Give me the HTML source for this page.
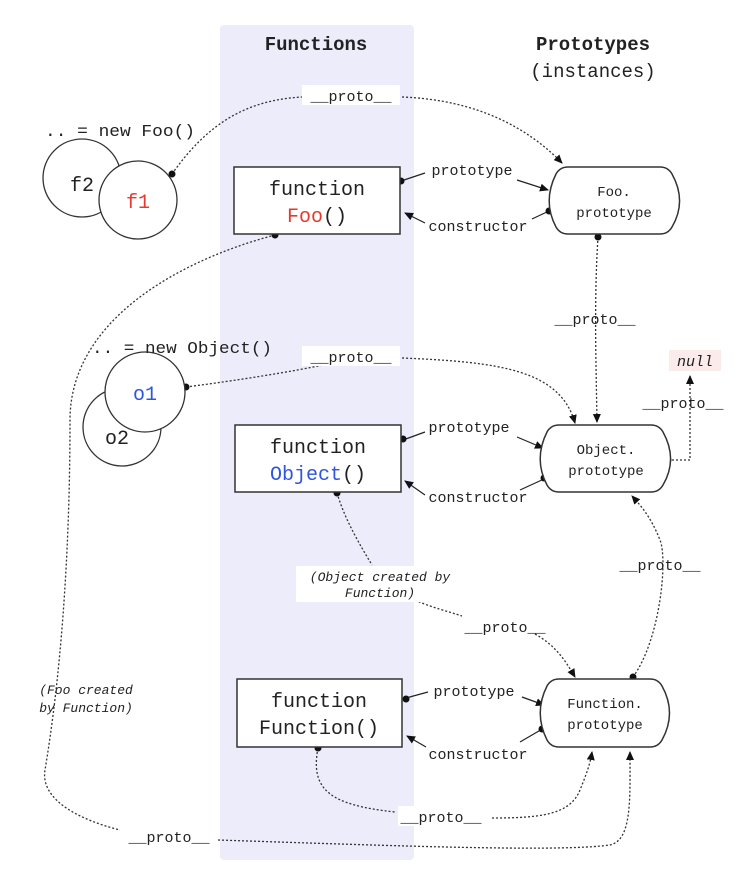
<!DOCTYPE html>
<html><head><meta charset="utf-8"><style>
html,body{margin:0;padding:0;background:#fff;}
svg{display:block;}
text{font-family:"Liberation Mono","DejaVu Sans Mono",monospace;fill:#222;}
</style></head><body>
<svg width="752" height="878" viewBox="0 0 752 878" xmlns="http://www.w3.org/2000/svg">
<defs>
<marker id="a" markerWidth="10" markerHeight="10" refX="8" refY="4" orient="auto" markerUnits="userSpaceOnUse">
<path d="M0,0 L9,4 L0,8 z" fill="#111"/></marker>
</defs>
<rect x="220" y="25" width="194" height="835" rx="4" fill="#ececfb"/>
<text x="316" y="50" font-size="19" font-weight="bold" text-anchor="middle">Functions</text>
<text x="593" y="50" font-size="19" font-weight="bold" text-anchor="middle">Prototypes</text>
<text x="593" y="77" font-size="19" text-anchor="middle">(instances)</text>

<g fill="none" stroke="#333" stroke-width="1.3" stroke-dasharray="2 2">
<path d="M172,174 C210,120 250,100 302,97"/>
<path d="M402,97 C480,100 530,130 562,163" marker-end="url(#a)"/>
<path d="M598,237 C594,300 596,360 597,422" marker-end="url(#a)"/>
<path d="M275,235 C180,260 70,320 70,420 C70,560 60,680 45,770 C40,800 80,820 120,830"/>
<path d="M218,840 C400,846 560,852 610,845 C632,840 630,800 630,752" marker-end="url(#a)"/>
<path d="M186,387 C240,380 290,372 328,364"/>
<path d="M402,358 C500,362 560,370 575,423" marker-end="url(#a)"/>
<path d="M668,460 L690,460 L690,376" marker-end="url(#a)"/>
<path d="M337,493 C345,520 360,545 372,565"/>
<path d="M415,600 C430,607 450,612 462,616"/>
<path d="M535,634 C555,645 565,660 575,677" marker-end="url(#a)"/>
<path d="M633,677 C660,640 668,560 660,540 C650,515 640,505 632,496" marker-end="url(#a)"/>
<path d="M318,748 C310,790 330,805 395,812"/>
<path d="M492,818 C540,818 570,815 580,790 C586,775 590,765 592,752" marker-end="url(#a)"/>
</g>

<g fill="none" stroke="#222" stroke-width="1.2">
<path d="M401,181 L425,173"/>
<path d="M517,180 L548,190" marker-end="url(#a)"/>
<path d="M549,211 L532,219"/>
<path d="M425,223 L405,213" marker-end="url(#a)"/>
<path d="M403,440 L425,432"/>
<path d="M517,437 L543,448" marker-end="url(#a)"/>
<path d="M544,479 L520,490"/>
<path d="M425,495 L405,481" marker-end="url(#a)"/>
<path d="M406,698 L428,692"/>
<path d="M522,697 L544,705" marker-end="url(#a)"/>
<path d="M544,728 L520,742"/>
<path d="M426,747 L407,736" marker-end="url(#a)"/>
</g>

<g fill="#111">
<circle cx="172" cy="174" r="3.5"/><circle cx="401" cy="181" r="3.5"/><circle cx="549" cy="211" r="3.5"/>
<circle cx="598" cy="237" r="3.5"/><circle cx="275" cy="235" r="3.5"/><circle cx="186" cy="387" r="3.5"/>
<circle cx="403" cy="439" r="3.5"/><circle cx="544" cy="478" r="3.5"/><circle cx="668" cy="460" r="3.5"/>
<circle cx="337" cy="493" r="3.5"/><circle cx="633" cy="677" r="3.5"/><circle cx="406" cy="699" r="3.5"/>
<circle cx="542" cy="729" r="3.5"/><circle cx="318" cy="748" r="3.5"/>
</g>

<g stroke="#333" stroke-width="1.3" fill="#fff">
<circle cx="82" cy="178" r="39"/><circle cx="138" cy="200" r="39"/>
<circle cx="122" cy="427" r="39"/><circle cx="145" cy="392" r="40"/>
</g>
<text x="82" y="191" font-size="20" text-anchor="middle">f2</text>
<text x="138" y="208" font-size="20" text-anchor="middle" style="fill:#e53a2f">f1</text>
<text x="145" y="400" font-size="20" text-anchor="middle" style="fill:#2f55e0">o1</text>
<text x="117" y="444" font-size="20" text-anchor="middle">o2</text>
<text x="45" y="136" font-size="17" textLength="150" lengthAdjust="spacingAndGlyphs">.. = new Foo()</text>
<text x="92" y="353" font-size="17" textLength="180" lengthAdjust="spacingAndGlyphs">.. = new Object()</text>

<g stroke="#333" stroke-width="1.5" fill="#fff">
<rect x="234" y="167" width="166" height="67"/>
<rect x="235" y="425" width="166" height="67"/>
<rect x="237" y="679" width="165" height="68"/>
</g>
<text x="317" y="195" font-size="20" text-anchor="middle">function</text>
<text x="317" y="222" font-size="20" text-anchor="middle"><tspan style="fill:#e53a2f">Foo</tspan>()</text>
<text x="318" y="453" font-size="20" text-anchor="middle">function</text>
<text x="318" y="480" font-size="20" text-anchor="middle"><tspan style="fill:#2f55e0">Object</tspan>()</text>
<text x="319" y="707" font-size="20" text-anchor="middle">function</text>
<text x="319" y="734" font-size="20" text-anchor="middle">Function()</text>

<g stroke="#333" stroke-width="1.5" fill="#fff">
<path d="M568,167 L660,167 Q668,167 672,174 C682,192 682,210 672,227 Q668,234 660,234 L568,234 Q560,234 556,227 C547,210 547,192 556,174 Q560,167 568,167 z"/>
<path d="M559,425 L651,425 Q659,425 663,432 C673,450 673,468 663,485 Q659,492 651,492 L559,492 Q551,492 547,485 C538,468 538,450 547,432 Q551,425 559,425 z"/>
<path d="M559,679 L650,679 Q658,679 662,686 C672,704 672,722 662,740 Q658,747 650,747 L559,747 Q551,747 547,740 C538,722 538,704 547,686 Q551,679 559,679 z"/>
</g>
<text x="614" y="196" font-size="14" text-anchor="middle">Foo.</text>
<text x="614" y="217" font-size="14" text-anchor="middle">prototype</text>
<text x="606" y="454" font-size="14" text-anchor="middle">Object.</text>
<text x="606" y="475" font-size="14" text-anchor="middle">prototype</text>
<text x="605" y="708" font-size="14" text-anchor="middle">Function.</text>
<text x="605" y="729" font-size="14" text-anchor="middle">prototype</text>

<rect x="669" y="350" width="52" height="21" fill="#fbeceb"/>
<text x="695" y="366" font-size="15" font-style="italic" text-anchor="middle">null</text>

<g font-size="15">
<rect x="302" y="85" width="98" height="20" fill="#fff"/>
<text x="351" y="101" text-anchor="middle">__proto__</text>
<rect x="302" y="346" width="98" height="20" fill="#fff"/>
<text x="351" y="362" text-anchor="middle">__proto__</text>
<text x="472" y="175" text-anchor="middle">prototype</text>
<text x="478" y="231" text-anchor="middle">constructor</text>
<text x="469" y="432" text-anchor="middle">prototype</text>
<text x="478" y="502" text-anchor="middle">constructor</text>
<text x="474" y="696" text-anchor="middle">prototype</text>
<text x="478" y="759" text-anchor="middle">constructor</text>
<text x="595" y="324" text-anchor="middle">__proto__</text>
<text x="683" y="408" text-anchor="middle">__proto__</text>
<text x="660" y="570" text-anchor="middle">__proto__</text>
<text x="505" y="632" text-anchor="middle">__proto__</text>
<rect x="398" y="806" width="86" height="20" fill="#fff"/>
<text x="441" y="822" text-anchor="middle">__proto__</text>
<text x="169" y="842" text-anchor="middle">__proto__</text>
<rect x="296" y="566" width="168" height="36" fill="#fff"/>
<text x="380" y="581" text-anchor="middle" font-style="italic" font-size="13">(Object created by</text>
<text x="380" y="597" text-anchor="middle" font-style="italic" font-size="13">Function)</text>
<text x="86" y="694" text-anchor="middle" font-style="italic" font-size="13">(Foo created</text>
<text x="86" y="712" text-anchor="middle" font-style="italic" font-size="13">by Function)</text>
</g>
</svg>
</body></html>
